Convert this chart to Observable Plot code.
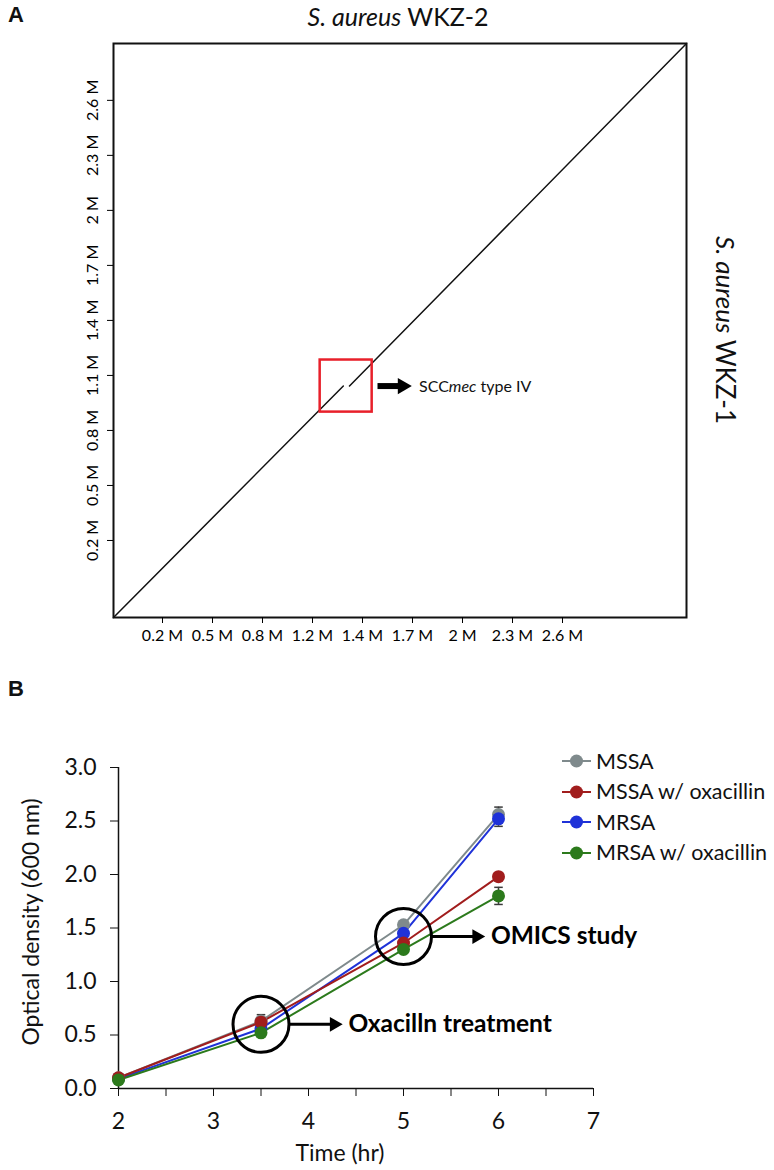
<!DOCTYPE html>
<html><head><meta charset="utf-8">
<script src="https://cdn.jsdelivr.net/npm/d3@7"></script>
<script src="https://cdn.jsdelivr.net/npm/@observablehq/plot@0.6"></script>
<style>
body{margin:0;background:#fff;}
#wrap{position:relative;width:774px;height:1170px;font-family:Lato,"Open Sans",sans-serif;color:#111;overflow:hidden;background:#fff;}
.abs{position:absolute;white-space:nowrap;line-height:1;}
#wrap svg{position:absolute;left:0;overflow:visible;}
</style></head><body><div id="wrap"></div>
<script>
// ---------- Panel A data (genome positions in Mb) ----------
const genomeXDomain = [-0.094, 3.344];
const genomeYDomain = [-0.22, 2.91];
const xTickValues = [0.2, 0.5, 0.8, 1.1, 1.4, 1.7, 2.0, 2.3, 2.6];
const xTickLabels = ["0.2 M", "0.5 M", "0.8 M", "1.2 M", "1.4 M", "1.7 M", "2 M", "2.3 M", "2.6 M"];
const yTickValues = [0.2, 0.5, 0.8, 1.1, 1.4, 1.7, 2.0, 2.3, 2.6];
const yTickLabels = ["0.2 M", "0.5 M", "0.8 M", "1.1 M", "1.4 M", "1.7 M", "2 M", "2.3 M", "2.6 M"];
// alignment blocks (WKZ-2 position x, WKZ-1 position y), split by the SCCmec insertion
const blockX1 = [-0.094, 1.322];
const blockY1 = [-0.22, 1.042];
const blockX2 = [1.285, 3.344];
const blockY2 = [1.042, 2.91];
// SCCmec region box and annotation
const sccBoxX = [1.146, 1.458];
const sccBoxY = [0.900, 1.184];
const sccArrowX = [1.49, 1.67];
const sccArrowY = 1.042;
const sccLabel = ["SCC", "mec", " type IV"];

// ---------- Panel B data ----------
const timeHr = [2, 3.5, 5, 6];
const seriesNames = ["MSSA", "MSSA w/ oxacillin", "MRSA", "MRSA w/ oxacillin"];
const seriesColors = ["#7f8a8c", "#a11d1d", "#1f32d8", "#2c7a1c"];
const odMSSA     = [0.10, 0.63, 1.53, 2.56];
const odMSSAox   = [0.10, 0.62, 1.36, 1.98];
const odMRSA     = [0.09, 0.56, 1.45, 2.52];
const odMRSAox   = [0.08, 0.52, 1.30, 1.80];
const errMSSA    = [0.02, 0.03, 0.03, 0.07];
const errMSSAox  = [0.02, 0.07, 0.03, 0.03];
const errMRSA    = [0.02, 0.02, 0.02, 0.07];
const errMRSAox  = [0.01, 0.02, 0.02, 0.08];
const yTicksB = [0, 0.5, 1.0, 1.5, 2.0, 2.5, 3.0];
const xTicksB = [2, 3, 4, 5, 6, 7];
const xMinorB = [2.5, 3.5, 4.5, 5.5, 6.5];
// annotations (circle centres, arrows, labels)
const noteCx = [3.5, 5.0];
const noteCy = [0.60, 1.42];
const noteArrowX1 = [3.80, 5.29];
const noteArrowX2 = [4.30, 5.80];
const noteText = ["Oxacilln treatment", "OMICS study"];
const noteTextX = [4.42, 5.92];

// ---------- Build Panel A ----------
const wrap = document.getElementById("wrap");
const blocks = blockX1.flatMap((s, i) => [
  {b: i, x: s, y: blockY1[i]}, {b: i, x: blockX2[i], y: blockY2[i]}
]);
const A_TOP = 0;
const chartA = Plot.plot({
  width: 774, height: 660,
  marginLeft: 113, marginRight: 88, marginTop: 43, marginBottom: 43,
  style: {fontFamily: "Lato, 'Open Sans', sans-serif", color: "#000", background: "transparent"},
  x: {domain: genomeXDomain},
  y: {domain: genomeYDomain},
  marks: [
    Plot.frame({stroke: "#111", strokeWidth: 2}),
    Plot.line(blocks, {x: "x", y: "y", z: "b", stroke: "#111", strokeWidth: 1.5}),
    Plot.rect([0], {x1: () => sccBoxX[0], x2: () => sccBoxX[1], y1: () => sccBoxY[0], y2: () => sccBoxY[1], fill: "none", stroke: "#e8202a", strokeWidth: 2.5}),
    Plot.link([0], {x1: () => sccArrowX[0], x2: () => sccArrowX[1] - 0.05, y1: () => sccArrowY, y2: () => sccArrowY, stroke: "#000", strokeWidth: 6}),
    Plot.dot([0], {x: () => sccArrowX[1] - 0.03, y: () => sccArrowY, symbol: "triangle", rotate: 90, r: 6, fill: "#000", stroke: "none"}),
    Plot.axisX({ticks: xTickValues, tickFormat: d => xTickLabels[xTickValues.indexOf(d)], tickSize: 6, tickPadding: 6, fontSize: 16, label: null}),
    Plot.axisY({ticks: yTickValues, tickFormat: () => "", tickSize: 6, label: null}),
    Plot.text(yTickValues, {y: d => d, frameAnchor: "left", dx: -21, rotate: -90, text: (d, i) => yTickLabels[i], fontSize: 16, textAnchor: "middle", fill: "#000"})
  ]
});
chartA.style.top = A_TOP + "px";
wrap.appendChild(chartA);
const sxA = chartA.scale("x"), syA = chartA.scale("y");

function addText(html, left, top, css) {
  const d = document.createElement("div");
  d.className = "abs";
  d.innerHTML = html;
  d.style.left = left + "px"; d.style.top = top + "px";
  Object.assign(d.style, css || {});
  wrap.appendChild(d);
  return d;
}
addText("A", 8, 4, {fontWeight: "bold", fontSize: "22px", fontFamily: "'Liberation Sans',Arial,sans-serif"});
addText("<i>S. aureus</i> WKZ-2", 398, 16, {fontSize: "25px", transform: "translate(-50%,-50%)"});
addText("<i>S. aureus</i> WKZ-1", 726, A_TOP + 330, {fontSize: "26px", transform: "translate(-50%,-50%) rotate(90deg)"});
addText(sccLabel[0] + "<i>" + sccLabel[1] + "</i>" + sccLabel[2], sxA.apply(sccArrowX[1]) + 12, A_TOP + syA.apply(sccArrowY), {fontSize: "16px", transform: "translateY(-50%)"});

// ---------- Build Panel B ----------
const B_TOP = 700;
const seriesOD = [odMSSA, odMSSAox, odMRSA, odMRSAox];
const seriesErr = [errMSSA, errMSSAox, errMRSA, errMRSAox];
const drawOrder = [0, 2, 1, 3];
const rows = drawOrder.flatMap(s => timeHr.map((t, i) => ({s: seriesNames[s], t, v: seriesOD[s][i], e: seriesErr[s][i]})));
const notes = noteCx.map((cx, i) => ({cx, cy: noteCy[i], x1: noteArrowX1[i], x2: noteArrowX2[i], tx: noteTextX[i], label: noteText[i]}));
const capW = 0.045;
const chartB = Plot.plot({
  width: 774, height: 470,
  marginLeft: 118, marginRight: 181, marginTop: 67, marginBottom: 82,
  style: {fontFamily: "Lato, 'Open Sans', sans-serif", color: "#111", background: "transparent"},
  x: {domain: [2, 7]},
  y: {domain: [0, 3]},
  color: {domain: seriesNames, range: seriesColors},
  marks: [
    Plot.ruleX([2], {y1: 0, y2: 3, stroke: "#111", strokeWidth: 1.5}),
    Plot.ruleY([0], {x1: 2, x2: 7, stroke: "#111", strokeWidth: 1.5}),
    Plot.axisY({ticks: yTicksB, tickFormat: d3.format(".1f"), tickSize: 8, tickPadding: 14, fontSize: 23, label: null}),
    Plot.axisX({ticks: xTicksB, tickFormat: d => String(d), tickSize: 8, tickPadding: 16, fontSize: 23, label: null}),
    Plot.axisX({ticks: xMinorB, tickFormat: () => "", tickSize: 8, label: null}),
    Plot.line(rows, {x: "t", y: "v", z: "s", stroke: "s", strokeWidth: 2}),
    Plot.ruleX(rows, {x: "t", y1: d => d.v - d.e, y2: d => d.v + d.e, stroke: "#3a3a3a", strokeWidth: 1.5}),
    Plot.link(rows, {x1: d => d.t - capW, x2: d => d.t + capW, y1: d => d.v + d.e, y2: d => d.v + d.e, stroke: "#3a3a3a", strokeWidth: 1.5}),
    Plot.link(rows, {x1: d => d.t - capW, x2: d => d.t + capW, y1: d => d.v - d.e, y2: d => d.v - d.e, stroke: "#3a3a3a", strokeWidth: 1.5}),
    Plot.dot(rows, {x: "t", y: "v", fill: "s", r: 6.5}),
    Plot.dot(notes, {x: "cx", y: "cy", r: 28, fill: "none", stroke: "#000", strokeWidth: 3}),
    Plot.link(notes, {x1: "x1", x2: d => d.x2 - 0.06, y1: "cy", y2: "cy", stroke: "#000", strokeWidth: 3}),
    Plot.dot(notes, {x: d => d.x2 - 0.03, y: "cy", symbol: "triangle", rotate: 90, r: 5.5, fill: "#000", stroke: "none"}),
    Plot.text(notes, {x: "tx", y: "cy", text: "label", textAnchor: "start", fontSize: 24.5, fontWeight: "bold", fill: "#000"})
  ]
});
chartB.style.top = B_TOP + "px";
wrap.appendChild(chartB);
const sxB = chartB.scale("x"), syB = chartB.scale("y");

addText("B", 8, 678, {fontWeight: "bold", fontSize: "22px", fontFamily: "'Liberation Sans',Arial,sans-serif"});
addText("Optical density (600 nm)", 30, B_TOP + syB.apply(1.5) - 6, {fontSize: "23px", transform: "translate(-50%,-50%) rotate(-90deg)"});
addText("Time (hr)", 340, B_TOP + 452, {fontSize: "23px", transform: "translate(-50%,-50%)"});

// legend
const legend = document.createElement("div");
legend.className = "abs";
legend.style.left = "561px"; legend.style.top = (B_TOP + 46) + "px";
seriesNames.forEach((name, i) => {
  const row = document.createElement("div");
  row.style.cssText = "display:flex;align-items:center;height:30.5px;font-size:21.5px;";
  row.innerHTML = `<svg width="32" height="16" style="position:static;margin-right:3px"><line x1="1" y1="8" x2="30" y2="8" stroke="${seriesColors[i]}" stroke-width="2"/><circle cx="15.5" cy="8" r="6.5" fill="${seriesColors[i]}"/></svg><span>${name}</span>`;
  legend.appendChild(row);
});
wrap.appendChild(legend);
</script></body></html>
